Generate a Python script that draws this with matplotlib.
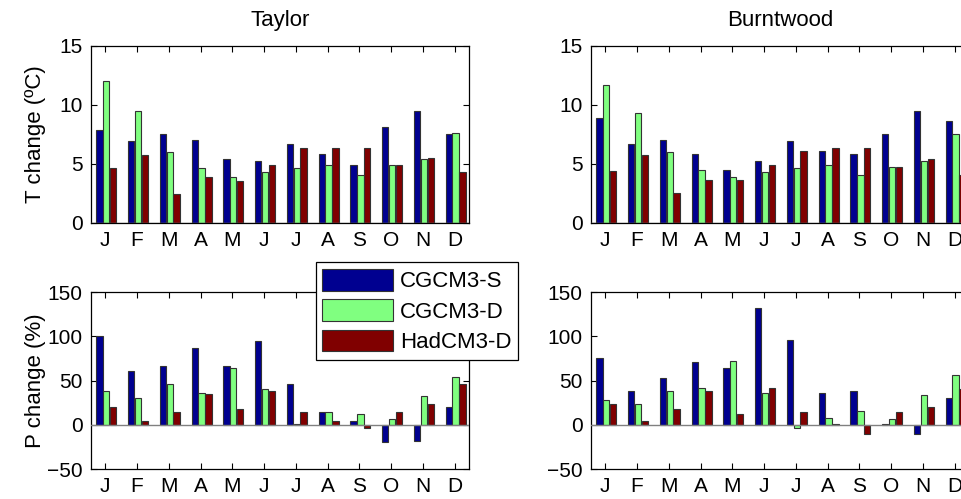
import matplotlib
matplotlib.use("Agg")
import matplotlib.pyplot as plt
import numpy as np

plt.rcParams['font.family'] = ['Liberation Sans', 'DejaVu Sans']

months = ['J', 'F', 'M', 'A', 'M', 'J', 'J', 'A', 'S', 'O', 'N', 'D']
models = ['CGCM3-S', 'CGCM3-D', 'HadCM3-D']
colors = ['#000090', '#80ff80', '#800000']

# temperature change (deg C)
taylor_t_cgcm3s = [7.9, 6.9, 7.5, 7.0, 5.4, 5.2, 6.7, 5.8, 4.9, 8.1, 9.5, 7.5]
taylor_t_cgcm3d = [12.0, 9.5, 6.0, 4.65, 3.9, 4.3, 4.65, 4.9, 4.05, 4.9, 5.4, 7.6]
taylor_t_hadcm3d = [4.65, 5.7, 2.4, 3.9, 3.55, 4.9, 6.3, 6.3, 6.3, 4.9, 5.5, 4.3]

burnt_t_cgcm3s = [8.85, 6.7, 7.05, 5.85, 4.5, 5.2, 6.9, 6.1, 5.85, 7.5, 9.5, 8.6]
burnt_t_cgcm3d = [11.7, 9.3, 6.0, 4.5, 3.9, 4.3, 4.65, 4.9, 4.05, 4.75, 5.2, 7.5]
burnt_t_hadcm3d = [4.35, 5.7, 2.55, 3.6, 3.6, 4.9, 6.1, 6.3, 6.3, 4.75, 5.4, 4.05]

# precipitation change (%)
taylor_p_cgcm3s = [100, 61, 66, 87, 66, 95, 46, 14, 4, -20, -18, 20]
taylor_p_cgcm3d = [38, 30, 46, 36, 64, 40, 0.5, 14, 12, 6, 32, 54]
taylor_p_hadcm3d = [20, 4, 14, 35, 18, 38, 14, 4, -4, 14, 24, 46]

burnt_p_cgcm3s = [75, 38, 53, 71, 64, 132, 96, 36, 38, 0.4, -10, 30]
burnt_p_cgcm3d = [28, 24, 38, 42, 72, 36, -4, 8, 16, 6, 34, 56]
burnt_p_hadcm3d = [24, 4, 18, 38, 12, 42, 14, 0.4, -10, 14, 20, 40]

TICK_FS = 15
LABEL_FS = 16
LEG_FS = 16

fig = plt.figure(figsize=(9.61, 4.99), dpi=100)

# axes positions in figure fraction (right column runs off the page like the original)
W, H = 0.3933, 0.3545
ax_tl = fig.add_axes([0.0947, 0.5537, W, H])
ax_tr = fig.add_axes([0.6150, 0.5537, W, H])
ax_bl = fig.add_axes([0.0947, 0.0601, W, H])
ax_br = fig.add_axes([0.6150, 0.0601, W, H])

x = np.arange(1, 13)
offsets = [-0.185, 0.03, 0.245]


def draw(ax, series, ylim, yticks):
    bars = []
    for vals, off, c, lab in zip(series, offsets, colors, models):
        b = ax.bar(x + off, vals, width=0.2, color=c, edgecolor='#333333',
                   linewidth=0.8, label=lab, zorder=2)
        bars.append(b)
    ax.axhline(0, color='#808080', lw=1.0, zorder=3)
    ax.set_xlim(0.55, 12.45)
    ax.set_ylim(*ylim)
    ax.set_xticks(x)
    ax.set_xticklabels(months)
    ax.set_yticks(yticks)
    ax.tick_params(direction='in', length=4, width=0.8, top=True, right=True,
                   labelsize=TICK_FS, pad=6)
    for s in ax.spines.values():
        s.set_linewidth(0.9)
    return bars


draw(ax_tl, [taylor_t_cgcm3s, taylor_t_cgcm3d, taylor_t_hadcm3d], (0, 15), [0, 5, 10, 15])
draw(ax_tr, [burnt_t_cgcm3s, burnt_t_cgcm3d, burnt_t_hadcm3d], (0, 15), [0, 5, 10, 15])
bars = draw(ax_bl, [taylor_p_cgcm3s, taylor_p_cgcm3d, taylor_p_hadcm3d], (-50, 150),
            [-50, 0, 50, 100, 150])
draw(ax_br, [burnt_p_cgcm3s, burnt_p_cgcm3d, burnt_p_hadcm3d], (-50, 150),
     [-50, 0, 50, 100, 150])

ax_tl.set_title('Taylor', fontsize=LABEL_FS, pad=14)
ax_tr.set_title('Burntwood', fontsize=LABEL_FS, pad=14)

ax_tl.set_ylabel('T change (ºC)', fontsize=LABEL_FS)
ax_bl.set_ylabel('P change (%)', fontsize=LABEL_FS)
ax_tl.yaxis.set_label_coords(-0.12, 0.5)
ax_bl.yaxis.set_label_coords(-0.12, 0.5)

fig.legend(bars, models, loc='upper left', bbox_to_anchor=(315.7 / 961, 1 - 262.3 / 499),
           bbox_transform=fig.transFigure, fontsize=LEG_FS, frameon=True, fancybox=False,
           edgecolor='black', framealpha=1, borderaxespad=0, borderpad=0.3,
           handlelength=3.2, handleheight=1.13, labelspacing=0.31, handletextpad=0.29)
fig.legends[0].get_frame().set_linewidth(0.9)

fig.savefig('out.png', dpi=100)
